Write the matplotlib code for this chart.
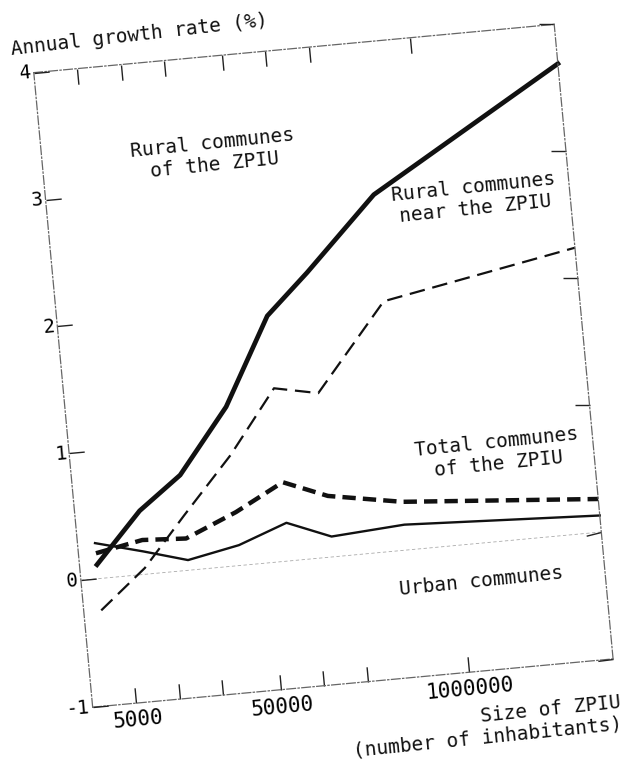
import numpy as np
import matplotlib
matplotlib.use("Agg")
import matplotlib.pyplot as plt
from matplotlib.transforms import Affine2D, IdentityTransform, blended_transform_factory
from matplotlib.scale import LogTransform
import mpl_toolkits.axisartist.floating_axes as floating_axes
from mpl_toolkits.axisartist.grid_finder import FixedLocator, DictFormatter

# Taille des ZPIU (milieu des classes) et taux de croissance annuel (%)
size_mid = [3300, 7000, 14000, 32000, 70000, 140000, 450000, 10000000]
rural_zpiu = [0.11, 0.50, 0.75, 1.25, 1.93, 2.24, 2.80, 3.69]
rural_near = [-0.25, 0.05, 0.43, 0.87, 1.36, 1.29, 1.96, 2.24]
total_zpiu = [0.20, 0.27, 0.25, 0.42, 0.62, 0.48, 0.38, 0.26]
urban = [0.28, 0.18, 0.08, 0.16, 0.30, 0.16, 0.20, 0.13]

x_ticks = [5000, 10000, 20000, 50000, 100000, 200000, 1000000]
x_tick_labels = {5000: "5000", 50000: "50000", 1000000: "1000000"}
y_ticks = [-1, 0, 1, 2, 3, 4]

x_lo, x_hi = 2500, 1e7
y_lo, y_hi = -1, 4

# Le scan est un peu tourne : on tourne le repere
px_decade = 148
px_unit = 130
angle = 5.3
text_angle = 5.8

tr = (blended_transform_factory(LogTransform(10), IdentityTransform())
      + Affine2D().translate(-np.log10(x_lo), -y_lo).scale(px_decade, px_unit).rotate_deg(angle))

fig = plt.figure(figsize=(6.3, 7.82), dpi=100)

grid_helper = floating_axes.GridHelperCurveLinear(
    tr, extremes=(x_lo, x_hi, y_lo, y_hi),
    grid_locator1=FixedLocator(x_ticks),
    grid_locator2=FixedLocator(y_ticks),
    tick_formatter1=DictFormatter(x_tick_labels),
    tick_formatter2=DictFormatter({v: str(v) for v in y_ticks}))

W = px_decade * np.log10(x_hi / x_lo)
H = px_unit * (y_hi - y_lo)
th = np.radians(angle)
bw = W * np.cos(th) + H * np.sin(th)
bh = W * np.sin(th) + H * np.cos(th)
left_px, bottom_px = 28, 68
ax = fig.add_axes([left_px / 630, bottom_px / 782, bw / 630, bh / 782],
                  axes_class=floating_axes.FloatingAxes, grid_helper=grid_helper)
aux = ax.get_aux_axes(tr)

mono = "DejaVu Sans Mono"

for side in ["left", "right", "top", "bottom"]:
    axis = ax.axis[side]
    axis.line.set_color("#666666")
    axis.line.set_linewidth(0.9)
    axis.line.set_linestyle((0, (7, 2, 1, 2)))
    axis.major_ticks.set_ticksize(11)
    axis.major_ticks.set_markeredgewidth(1.0)
    axis.major_ticks.set_markeredgecolor("#222222")

ax.axis["top"].major_ticklabels.set_visible(False)
ax.axis["right"].major_ticklabels.set_visible(False)
ax.axis["bottom"].major_ticklabels.set_fontsize(15)
ax.axis["bottom"].major_ticklabels.set_fontfamily(mono)
ax.axis["bottom"].major_ticklabels.set_pad(5)
ax.axis["left"].major_ticklabels.set_fontsize(14)
ax.axis["left"].major_ticklabels.set_fontfamily(mono)
ax.axis["left"].major_ticklabels.set_pad(2)

# ligne faible du zero
aux.plot([x_lo, x_hi], [0, 0], color="#aaaaaa", lw=0.6, ls=(0, (4, 3)))

ink = "#111111"
aux.plot(size_mid, rural_zpiu, color=ink, lw=3.4, solid_joinstyle="round")
aux.plot(size_mid, rural_near, color=ink, lw=1.6, ls=(0, (7, 3.5)))
aux.plot(size_mid, total_zpiu, color=ink, lw=3.2, ls=(0, (3, 1.6)))
aux.plot(size_mid, urban, color=ink, lw=1.7)

text_kw = dict(family=mono, fontsize=14, rotation=text_angle,
               rotation_mode="anchor", color=ink, ha="center", va="center")
aux.text(38000, 3.23, "Rural communes\nof the ZPIU", **text_kw)
aux.text(2200000, 2.70, "Rural communes\nnear the ZPIU", **text_kw)
aux.text(2170000, 0.69, "Total communes\nof the ZPIU", **text_kw)
aux.text(1390000, -0.30, "Urban communes", **text_kw)

aux.text(1800, 4.12, "Annual growth rate (%)", family=mono, fontsize=14,
         rotation=6.5, rotation_mode="anchor", ha="left", va="bottom", color=ink)
aux.text(1.05e7, -1.27, "Size of ZPIU\n(number of inhabitants)", family=mono,
         fontsize=14, rotation=text_angle, rotation_mode="anchor",
         ha="right", va="top", multialignment="right", color=ink)

fig.savefig("out.png", dpi=100)
